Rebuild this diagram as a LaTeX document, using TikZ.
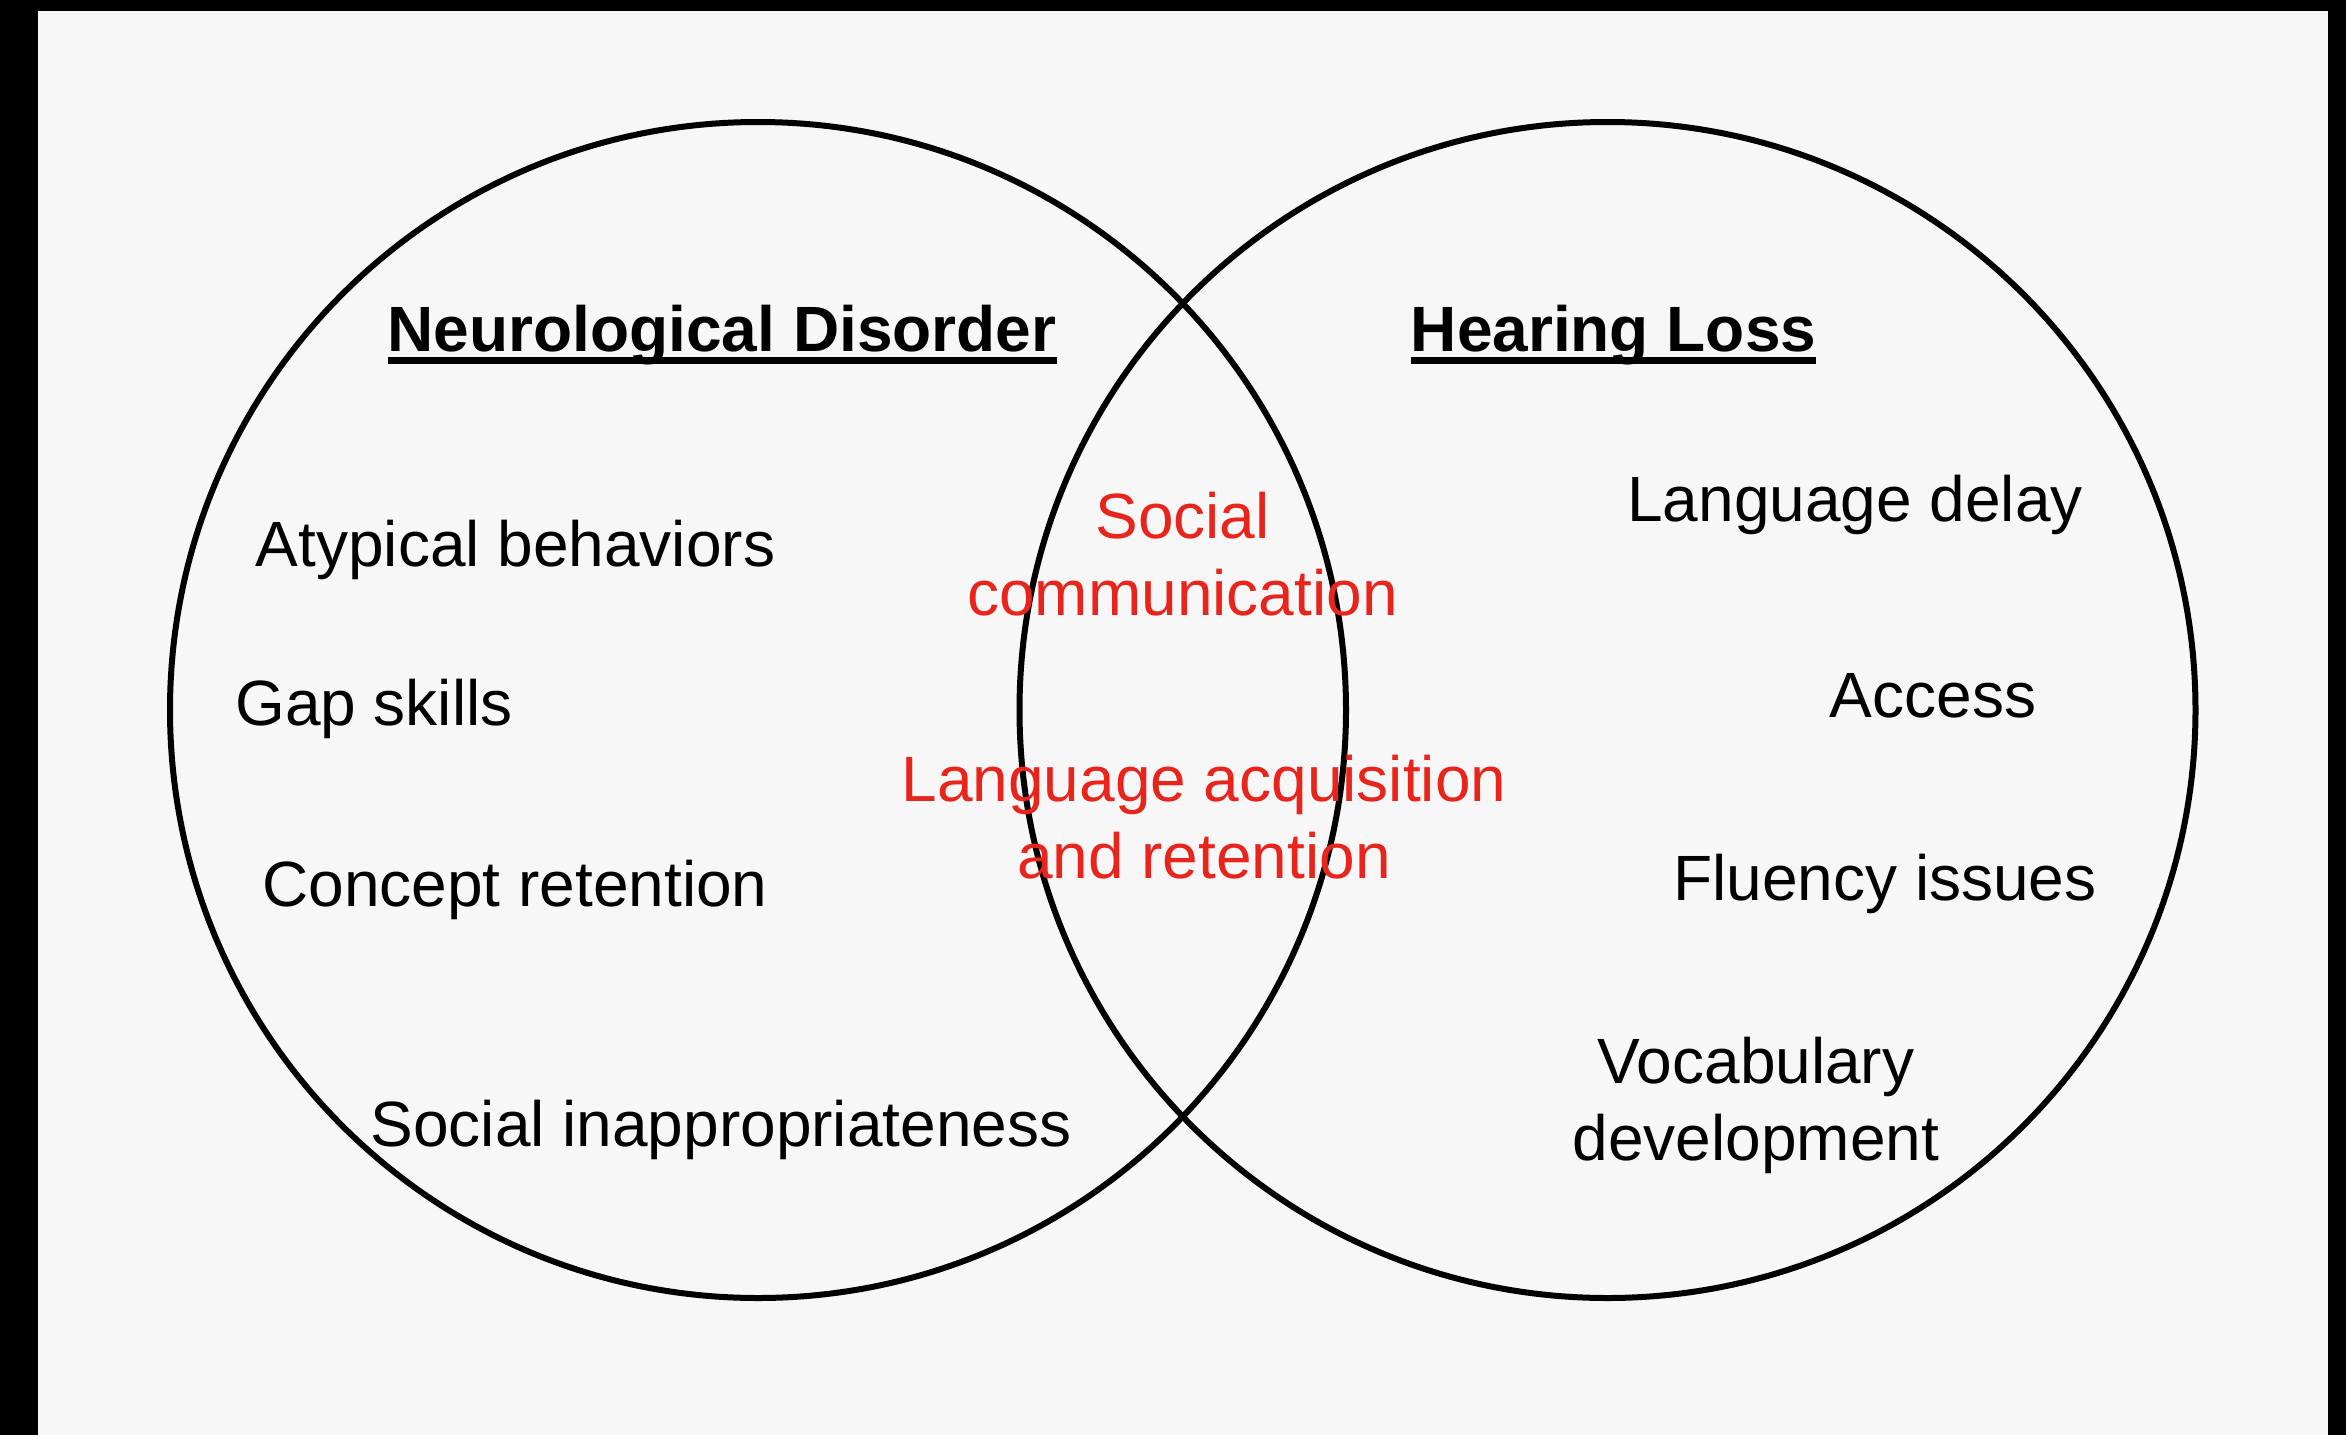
\documentclass[tikz,border=0pt]{standalone}
\usepackage{fontspec}
\setmainfont{Liberation Sans}
\definecolor{paper}{RGB}{247,247,247}
\definecolor{overlapred}{RGB}{232,37,28}
\begin{document}
\begin{tikzpicture}[x=1pt,y=-1pt,
  ring/.style={circle,draw=black,line width=6pt,minimum size=1176pt,inner sep=0pt},
  item/.style={font=\fontsize{64}{77}\selectfont,inner sep=0pt,anchor=base,align=center},
  shared/.style={item,text=overlapred},
  heading/.style={font=\fontsize{64}{77}\selectfont\bfseries,inner sep=0pt,anchor=base},
  rule/.style={line width=6.5pt}]
% frame and paper
\fill[black] (0,0) rectangle (2346,1435);
\fill[paper] (38,11) rectangle (2328,1435);
\useasboundingbox (0,0) rectangle (2346,1435);

% the two sets
\node[ring] (neuro) at (758,710) {};
\node[ring] (hear) at (1607.5,710) {};

% headings with underlines
\node[heading] (hN) at (722,351) {Neurological Disorder};
\node[heading] (hH) at (1613.5,351) {Hearing Loss};
\draw[rule] ([yshift=-9.5pt]hN.base west) -- ([yshift=-9.5pt]hN.base east);
\draw[rule] ([yshift=-9.5pt]hH.base west) -- ([yshift=-9.5pt]hH.base east);

% neurological disorder only (base = baseline of the last line)
\node[item] (n1) at (515.5,566) {Atypical behaviors};
\node[item] (n2) at (374,725) {Gap skills};
\node[item] (n3) at (515,906) {Concept retention};
\node[item] (n4) at (721,1146) {Social inappropriateness};

% shared features
\node[shared] (s1) at (1182.5,615) {Social\\communication};
\node[shared] (s2) at (1204,878) {Language acquisition\\and retention};

% hearing loss only
\node[item] (h1) at (1855,521) {Language delay};
\node[item] (h2) at (1933,717) {Access};
\node[item] (h3) at (1885,900) {Fluency issues};
\node[item] (h4) at (1756,1160) {Vocabulary\\development};
\end{tikzpicture}
\end{document}
